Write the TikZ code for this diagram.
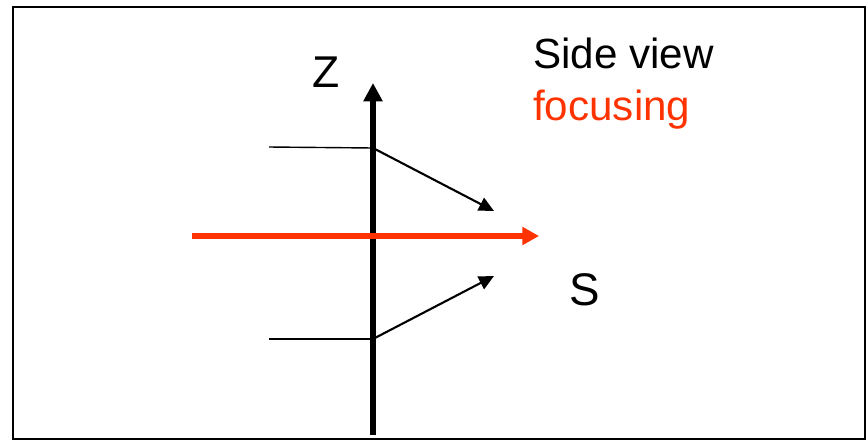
\documentclass[tikz,border=0pt]{standalone}
\usepackage{fontspec}
\setmainfont{Liberation Sans}
\usetikzlibrary{arrows.meta}
\definecolor{rougefoc}{RGB}{255,51,0}
\begin{document}
\begin{tikzpicture}[x=0.03cm,y=-0.03cm]
    \useasboundingbox (0,0) rectangle (868,441);
    % Cadre
    \draw[line width=1.6pt] (13,7) rectangle (865,439);

    % Points
    \coordinate (Zbas) at (373,435);
    \coordinate (Zhaut) at (373,83);
    \coordinate (H1) at (269,147);
    \coordinate (P1) at (373,148);
    \coordinate (F1) at (494,211);
    \coordinate (H2) at (269,339);
    \coordinate (P2) at (373,339);
    \coordinate (F2) at (494,276);
    \coordinate (R1) at (192,236);
    \coordinate (R2) at (539,236);

    % Axe z
    \draw[line width=5pt,-{Triangle[length=0.55cm,width=0.55cm]}] (Zbas) -- (Zhaut);

    % Rayons
    \draw[line width=1.2pt] (H1) -- (P1);
    \draw[line width=1.8pt,-{Triangle[length=0.45cm,width=0.42cm]}] (P1) -- (F1);
    \draw[line width=1.2pt] (H2) -- (P2);
    \draw[line width=1.8pt,-{Triangle[length=0.45cm,width=0.42cm]}] (P2) -- (F2);

    % Faisceau
    \draw[rougefoc,line width=4.4pt,-{Triangle[length=0.5cm,width=0.52cm]}] (R1) -- (R2);

    % Labels
    \node[inner sep=0] (z) at (326,72.5) {\fontsize{38}{44}\selectfont Z};
    \node[inner sep=0] (s) at (585,290) {\fontsize{39}{46}\selectfont S};
    \node[inner sep=0,anchor=base west] (vue) at (533,68) {\fontsize{36}{42}\selectfont Side view};
    \node[inner sep=0,anchor=base west,text=rougefoc] (foc) at (533,120) {\fontsize{36}{42}\selectfont focusing};

\end{tikzpicture}
\end{document}
